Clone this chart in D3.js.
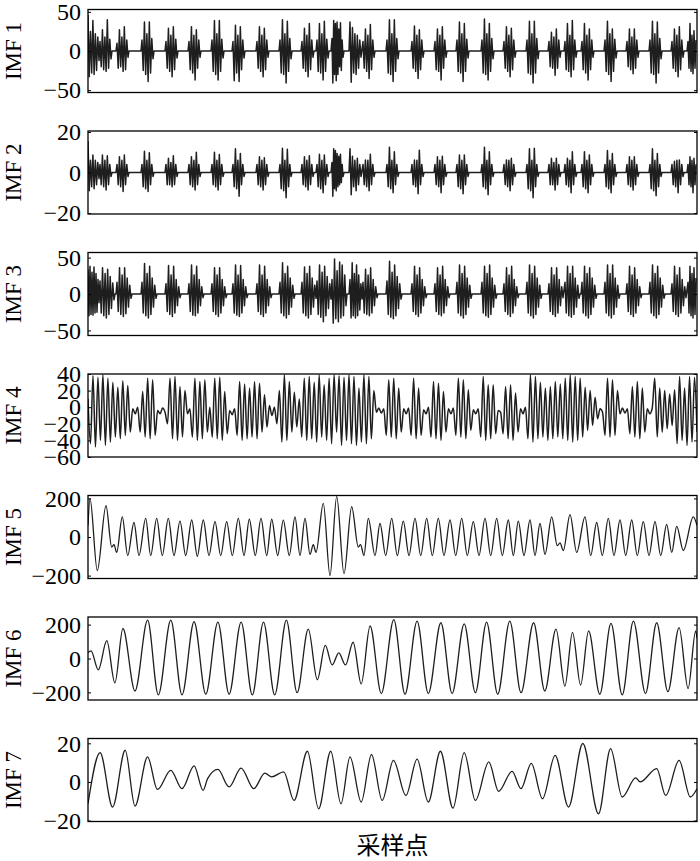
<!DOCTYPE html>
<html>
<head>
<meta charset="utf-8">
<script src="https://cdn.jsdelivr.net/npm/d3@7"></script>
<style>
  body { margin: 0; background: #fff; }
  svg text { font-family: "Liberation Serif", "Times New Roman", serif; fill: #000; }
</style>
</head>
<body>
<div id="chart"></div>
<script>
// sample axis runs 0..609, no ticks are drawn on it
const sampleMax = 609;

const panelNames = ["IMF 1", "IMF 2", "IMF 3", "IMF 4", "IMF 5", "IMF 6", "IMF 7"];
const yDomains = [[-53, 53], [-20.5, 20.5], [-57, 57], [-60, 40], [-215, 215], [-245, 245], [-20.5, 22.5]];
const yTicks = [[-50, 0, 50], [-20, 0, 20], [-50, 0, 50], [-60, -40, -20, 0, 20, 40], [-200, 0, 200], [-200, 0, 200], [-20, 0, 20]];
const xLabel = "采样点";

// where each impact burst starts (sample)
const burstStarts = [0, 12, 29, 54, 78, 101, 124, 145, 169, 192, 214, 229, 244, 262, 275, 299, 324, 347, 369, 394,
  416, 439, 461, 477, 494, 517, 539, 562, 584, 600];

// extremes inside each burst
const imf1Bursts = [
  [46, -33, 25, -28, 39, -30, 22, -25, 18, -12],
  [12, -20, 27, -24, 18, -26, 40, -22, 15, -10],
  [10, -22, 27, -20, 18, -26, 31, -24, 14, -8],
  [14, -25, 37, -30, 22, -39, 37, -28, 16, -10],
  [12, -22, 29, -26, 20, -33, 31, -24, 15, -9],
  [12, -24, 31, -28, 20, -37, 27, -22, 14, -8],
  [14, -26, 39, -30, 22, -37, 39, -26, 15, -9],
  [12, -38, 33, -28, 20, -39, 31, -24, 14, -9],
  [12, -22, 31, -26, 20, -33, 29, -24, 14, -8],
  [14, -28, 40, -30, 22, -41, 38, -26, 16, -10],
  [12, -22, 29, -26, 20, -33, 35, -24, 14, -8],
  [14, -26, 35, -28, 22, -37, 38, -26, 15, -9],
  [16, -41, 39, -30, 35, -38, 37, -30, 28, -20, 36, -25, 14, -8],
  [37, -40, 30, -28, 22, -30, 20, -22, 14, -8],
  [12, -22, 28, -26, 20, -35, 34, -24, 14, -8],
  [14, -28, 40, -30, 22, -39, 40, -26, 16, -10],
  [12, -22, 32, -26, 20, -35, 27, -24, 14, -8],
  [12, -24, 28, -26, 20, -37, 31, -22, 14, -8],
  [14, -26, 37, -28, 22, -39, 35, -26, 15, -9],
  [14, -28, 41, -30, 22, -37, 35, -26, 16, -10],
  [12, -22, 31, -26, 20, -33, 29, -24, 14, -8],
  [14, -28, 38, -30, 22, -41, 38, -28, 16, -10],
  [12, -20, 24, -22, 18, -31, 28, -22, 14, -8],
  [12, -24, 35, -26, 20, -33, 39, -24, 14, -8],
  [12, -24, 35, -28, 20, -37, 28, -24, 14, -8],
  [14, -26, 38, -30, 22, -39, 28, -26, 15, -9],
  [12, -20, 28, -24, 18, -29, 28, -22, 14, -8],
  [14, -28, 38, -30, 22, -41, 37, -28, 16, -10],
  [12, -22, 28, -26, 20, -33, 31, -24, 14, -8],
  [12, -22, 35, -26, 20, -29, 26, -22, 14]
];

const imf2Bursts = [
  [15.6, -9, 6, -7, 8.6, -8, 6, -6, 5, -3],
  [4, -6, 8.6, -7, 6, -8.6, 8.3, -6, 4, -2],
  [4, -6, 7.8, -7, 6, -9.4, 8.6, -6, 4, -2],
  [4, -7, 10.5, -8, 6, -9.4, 9.8, -6, 4, -2],
  [4, -6, 7, -6, 5, -7, 8.3, -6, 4, -2],
  [4, -6, 7.8, -7, 6, -8.6, 10, -6, 4, -2],
  [4, -6, 10, -7, 6, -8.6, 8.9, -6, 4, -2],
  [4, -7, 11.7, -8, 6, -11.7, 9.4, -6, 4, -2],
  [4, -6, 7.8, -7, 6, -8.6, 7.3, -6, 4, -2],
  [4, -8, 12, -9, 6, -12.5, 11.5, -7, 4, -2],
  [4, -6, 7.8, -7, 6, -8.6, 8.3, -6, 4, -2],
  [4, -7, 9, -8, 6, -10, 8.6, -6, 4, -2],
  [5, -11.7, 11.7, -8, 10.9, -9, 9.4, -7, 8, -6, 9, -5, 4, -2],
  [11.7, -11, 8, -7, 6, -9, 7, -6, 4, -2],
  [4, -6, 6.2, -7, 6, -9, 9, -6, 4, -2],
  [4, -7, 12.5, -8, 6, -10, 10.2, -6, 4, -2],
  [4, -6, 6.2, -7, 6, -10.5, 11, -6, 4, -2],
  [4, -6, 7.8, -7, 6, -10, 8, -6, 4, -2],
  [4, -7, 8.6, -8, 6, -10.5, 8.6, -6, 4, -2],
  [4, -7, 12.5, -8, 6, -11, 10.2, -6, 4, -2],
  [4, -6, 6.2, -7, 6, -9, 7, -6, 4, -2],
  [4, -8, 11.7, -9, 6, -12.5, 12, -7, 4, -2],
  [4, -6, 7, -6, 5, -8.6, 7, -6, 4, -2],
  [4, -6, 7, -7, 6, -10, 10.2, -6, 4, -2],
  [4, -7, 10.2, -8, 6, -10, 8.6, -6, 4, -2],
  [4, -7, 10.9, -8, 6, -10, 9.4, -6, 4, -2],
  [4, -6, 7.8, -7, 6, -8.6, 7.8, -6, 4, -2],
  [4, -8, 11.7, -9, 6, -11.5, 9.4, -7, 4, -2],
  [4, -6, 5.5, -7, 6, -10, 6.2, -6, 4, -2],
  [4, -6, 7.8, -7, 6, -10, 7, -6, 4]
];

const imf3Bursts = [
  [34, -30, 38, -28, 30, -29, 37, -26, 28, -25, 20, -12],
  [18, -26, 36, -30, 28, -33, 34, -28, 24, -20, 15, -8],
  [16, -24, 36, -28, 26, -31, 36, -27, 22, -18, 12, -6],
  [16, -26, 42, -30, 28, -33, 38, -28, 22, -18, 12, -6],
  [14, -24, 39, -28, 26, -31, 38, -26, 20, -16, 10, -5],
  [14, -24, 40, -29, 26, -30, 38, -26, 20, -16, 10, -5],
  [14, -24, 36, -28, 26, -31, 36, -26, 20, -16, 10, -5],
  [14, -26, 40, -29, 26, -31, 39, -26, 20, -16, 10, -5],
  [14, -24, 40, -28, 26, -31, 38, -26, 20, -16, 10, -5],
  [16, -26, 43, -30, 28, -33, 38, -28, 22, -18, 12, -6],
  [16, -26, 37, -30, 28, -33, 38, -28, 22, -18, 12, -6],
  [18, -28, 40, -32, 30, -38, 38, -30, 24, -20, 14, -7],
  [20, -40, 48, -34, 32, -38, 44, -33, 40, -30, 26, -16],
  [20, -33, 43, -30, 28, -33, 40, -30, 26, -22, 14, -7],
  [16, -26, 34, -28, 26, -30, 36, -26, 20, -16, 10, -5],
  [18, -28, 45, -32, 30, -34, 40, -30, 24, -20, 14, -7],
  [14, -24, 38, -28, 26, -31, 36, -26, 20, -16, 10, -5],
  [14, -24, 36, -28, 26, -30, 38, -26, 20, -16, 10, -5],
  [16, -26, 40, -30, 28, -33, 38, -28, 22, -18, 12, -6],
  [16, -26, 38, -30, 28, -32, 40, -28, 22, -18, 12, -6],
  [14, -24, 36, -28, 26, -31, 38, -26, 20, -16, 10, -5],
  [16, -26, 40, -30, 28, -33, 38, -28, 22, -18, 12, -6],
  [14, -24, 36, -28, 26, -31, 36, -26, 20, -16, 10, -5],
  [16, -26, 38, -30, 28, -32, 38, -28, 22, -18, 12, -6],
  [16, -26, 38, -30, 28, -33, 36, -28, 22, -18, 12, -6],
  [16, -26, 40, -30, 28, -33, 40, -28, 22, -18, 12, -6],
  [14, -24, 38, -28, 26, -31, 36, -26, 20, -16, 10, -5],
  [16, -26, 40, -30, 28, -33, 38, -28, 22, -18, 12, -6],
  [14, -24, 38, -28, 26, -31, 36, -26, 20, -16, 10, -5],
  [16, -26, 38, -30, 28, -33, 36, -28, 22]
];

// IMF 4 extremes, evenly spaced over the record
const imf4Values = [
  10, -44, 38, -48, 36, -40, 39, -46, 35, -42, 30,
  -36, 24, -38, 32, -34, 26, -30,
  -2, -8, 0,
  -30, 19, -36, 35, -38, 33, -34,
  -4, -8, -1, -6,
  -20, 35, -38, 37, -40, 25, -36, 20,
  -8, -2,
  -36, 35, -40, 31, -38, 33, -30,
  0,
  -36, 35, -38, 36, -40, 19, -32,
  -4, -9, -2,
  -34, 31, -40, 28, -38, 23, -36, 31, -38, 29,
  -30, 15, -24, 2, -10, 0, -20, 20,
  -42, 39, -40,
  31, -30, 18, -24, 10,
  -36, 35, -40, 37, -38, 30,
  -42, 39, -36, 27, -40, 35, -44, 39, -30, 38, -46, 36, -40,
  39, -44, 37, -46, 23, -42, 39, -44, 37, -38, 20,
  -6, -1, -7, -2,
  -34, 33, -36, 35, -38, 23, -30,
  -2, -8, -1,
  -34, 35, -38, 23, -34,
  -3, -8, 0,
  -36, 31, -38, 29, -40, 19, -30,
  -2, -8, -1,
  -34, 35, -36, 33, -38, 21, -28,
  -3, -8, -2,
  -36, 37, -40, 27, -38, 27, -32,
  -4, -6,
  -32, 25, -38, 27, -40, 17, -30,
  -2, -8, 0,
  -38, 39, -42, 37, -38,
  30, -36, 23, -40, 25, -38, 31, -36, 28, -38,
  35, -40, 39, -42, 37, -40, 35, -36,
  24, -28, 20, -22, 12, -14,
  -2, -6,
  -34, 35, -36, 33, -34, 20,
  -8, -1, -7, -2,
  -32, 25, -36, 31, -38, 23, -30,
  -2, -8, -1,
  35, -36, 23,
  -30, 20, -26, 16, -22,
  21, -44, 37, -40, 23, -46, 37, -42, 36, -30
];

// [sample, value] turning points
const imf5Points = [
  [0, 60], [2, 200], [9.3, -174], [18, 162], [23.7, -52], [26, -40], [28.7, -80], [34.3, 104], [39.7, -96],
  [46, 75], [51, -96], [57.7, 96], [62.7, -96], [68.7, 96], [74.3, -96], [80.3, 96], [86, -96], [92, 82],
  [97.7, -96], [103.7, 88], [109.3, -100], [115.3, 88], [121, -96], [127, 80], [132.7, -96], [138.7, 80],
  [144.3, -96], [150.3, 96], [156, -96], [161.3, 92], [167.3, -96], [173, 96], [178.7, -96], [183.7, 92],
  [189.7, -96], [195.3, 87], [201.3, -96], [207, 104], [212, -96], [217, 96], [222, -90], [225.3, -40],
  [228, -80], [235.3, 174], [242, -200], [248.7, 210], [256, -190], [263.7, 157], [270.3, -52], [272.5, -40],
  [276, -96], [280.3, 96], [287, -96], [292, 70], [297.7, -96], [303.7, 96], [309.3, -96], [315.3, 82],
  [321, -96], [327, 96], [332.7, -96], [338.7, 96], [344.3, -96], [350.3, 96], [356, -96], [362, 88],
  [367.7, -96], [373.7, 96], [379.3, -96], [385.3, 80], [391, -96], [397, 96], [402.7, -96], [408.7, 96],
  [414.3, -96], [420.3, 88], [425.3, -96], [430.3, 82], [436, -96], [442, 88], [447, -96], [452, 70],
  [457, -90], [463.7, 104], [469.3, -45], [472, -30], [475.3, -70], [482, 116], [488.7, -80], [497, 104],
  [502.7, -96], [508.7, 75], [514.3, -96], [520.3, 96], [526, -96], [532, 88], [537.7, -96], [543.7, 88],
  [549.3, -96], [555.3, 80], [561, -96], [567, 80], [572.7, -96], [578.7, 65], [583.7, -80], [588.7, 55],
  [595.3, -70], [605.3, 104], [609, 60]
];

const imf6Points = [
  [0, 35], [3, 45], [10.3, -67], [18.8, 105], [26.9, -144], [34.9, 177], [47, -192], [59.6, 226], [70.3, -215],
  [82.8, 226], [94, -215], [106.1, 217], [117.8, -211], [129.9, 215], [141.1, -211], [153.1, 215], [164.3, -215],
  [175.5, 215], [186.7, -215], [198.4, 226], [209.1, -202], [220.3, 173], [229.3, -125], [237.3, 77],
  [244.1, -38], [250.8, 33], [257.5, -38], [265.1, 96], [273.2, -150], [282.1, 192], [293.3, -207],
  [305.8, 230], [317, -211], [329.1, 221], [340.3, -207], [352.9, 211], [364.1, -207], [376.2, 205],
  [387.4, -202], [398.6, 215], [409.7, -211], [421.8, 221], [433, -202], [445.6, 211], [456.8, -192],
  [468, 173], [476.9, -163], [484.5, 154], [492.6, -157], [500.6, 163], [511.8, -211], [523, 207],
  [534.2, -215], [545.4, 221], [557.5, -207], [568.7, 211], [579.9, -196], [591.1, 182], [600.1, -177],
  [607.7, 163], [609, 120]
];

const imf7Points = [
  [0, -11.3], [12.1, 15.2], [24.6, -13], [37.2, 16.4], [47, -12.5], [59.6, 13], [69.4, -3.9], [82.8, 6],
  [94, -3.5], [106.1, 8.3], [115.1, -4.4], [119.6, 1.7], [129.9, 6.5], [141.1, -2.6], [153.1, 7.2],
  [165.7, -3.5], [176.9, 4.6], [183.6, 2.6], [195.7, 5.2], [206, -9.6], [219.4, 15.9], [230.6, -13.9],
  [242.7, 15.9], [253, -11.3], [262, 13], [273.2, -10.4], [283.5, 14.2], [294.2, -9.6], [305.4, 11.2],
  [317.9, -7], [329.1, 11.8], [340.3, -10.4], [352.4, 15.9], [365, -13.6], [376.2, 15.2], [387.4, -9.6],
  [400.8, 10.4], [410.6, -4.9], [424.1, 5.5], [433, -3.5], [443.3, 9.6], [454.5, -8.7], [467.1, 13.8],
  [480.5, -13], [494.8, 19.9], [510.5, -16.5], [522.6, 17.3], [534.2, -7.8], [547.7, 2.1], [552.1, 0],
  [568.7, 6.9], [577.7, -7], [591.1, 11.2], [602.3, -7.8], [609, -3.5]
];

const W = 700, H = 861,
  left = 88, right = 697,
  top0 = 9.5, gap = 121.5, ph = 83;

const svg = d3.select("#chart").append("svg")
  .attr("width", W)
  .attr("height", H)
  .style("background", "#fff");

const x = d3.scaleLinear().domain([0, sampleMax]).range([left, right]);

// turn burst extremes into a continuous trace with a flat line between bursts
function burstSeries(bursts, len) {
  let pts = [];
  burstStarts.forEach(function(s, i) {
    let next = i < burstStarts.length - 1 ? burstStarts[i + 1] : sampleMax;
    let end = Math.min(s + len, next - 1, sampleMax);
    let v = bursts[i], step = (end - s) / (v.length - 1);
    v.forEach(function(d, j) { pts.push([s + j * step, d]); });
    if (next - end > 2) {
      pts.push([end + 1, 0]);
      pts.push([next - 1, 0]);
    }
  });
  return pts;
}

function evenSeries(values) {
  let step = sampleMax / (values.length - 1);
  return values.map(function(d, i) { return [i * step, d]; });
}

const series = [
  burstSeries(imf1Bursts, 11),
  burstSeries(imf2Bursts, 11),
  burstSeries(imf3Bursts, 14),
  evenSeries(imf4Values),
  imf5Points,
  imf6Points,
  imf7Points
];

series.forEach(function(pts, i) { drawPanel(i, pts); });

function drawPanel(i, pts) {
  let g = svg.append("g").attr("transform", "translate(0," + (top0 + i * gap) + ")");
  let y = d3.scaleLinear().domain(yDomains[i]).range([ph, 0]);

  g.append("clipPath").attr("id", "clip" + i)
    .append("rect")
    .attr("x", left).attr("y", 0)
    .attr("width", right - left).attr("height", ph);

  let line = d3.line()
    .x(function(d) { return x(d[0]); })
    .y(function(d) { return y(d[1]); })
    .curve(i < 3 ? d3.curveLinear : d3.curveMonotoneX);

  g.append("path")
    .datum(pts)
    .attr("clip-path", "url(#clip" + i + ")")
    .attr("d", line)
    .attr("fill", "none")
    .attr("stroke", "#1e1e1e")
    .attr("stroke-width", i < 4 ? 1.5 : 1.3)
    .attr("stroke-linejoin", "round");

  let axL = g.append("g")
    .attr("transform", "translate(" + left + ",0)")
    .call(d3.axisLeft(y).tickValues(yTicks[i]).tickSize(-3).tickPadding(7));
  let axR = g.append("g")
    .attr("transform", "translate(" + right + ",0)")
    .call(d3.axisRight(y).tickValues(yTicks[i]).tickSize(-3).tickFormat(""));

  [axL, axR].forEach(function(a) {
    a.select(".domain").remove();
    a.selectAll("line").attr("stroke", "#000");
  });
  axL.attr("font-family", null).attr("font-size", null);
  axL.selectAll("text").style("font-size", "24px");

  g.append("rect")
    .attr("x", left).attr("y", 0)
    .attr("width", right - left).attr("height", ph)
    .attr("fill", "none")
    .attr("stroke", "#000")
    .attr("stroke-width", 1.3);

  g.append("text")
    .attr("transform", "translate(21," + (ph / 2) + ") rotate(-90)")
    .attr("text-anchor", "middle")
    .style("font-size", "23px")
    .text(panelNames[i]);
}

svg.append("text")
  .attr("x", (left + right) / 2)
  .attr("y", 854)
  .attr("text-anchor", "middle")
  .style("font-family", "'Noto Sans CJK SC', sans-serif")
  .style("font-size", "24px")
  .text(xLabel);
</script>
</body>
</html>
